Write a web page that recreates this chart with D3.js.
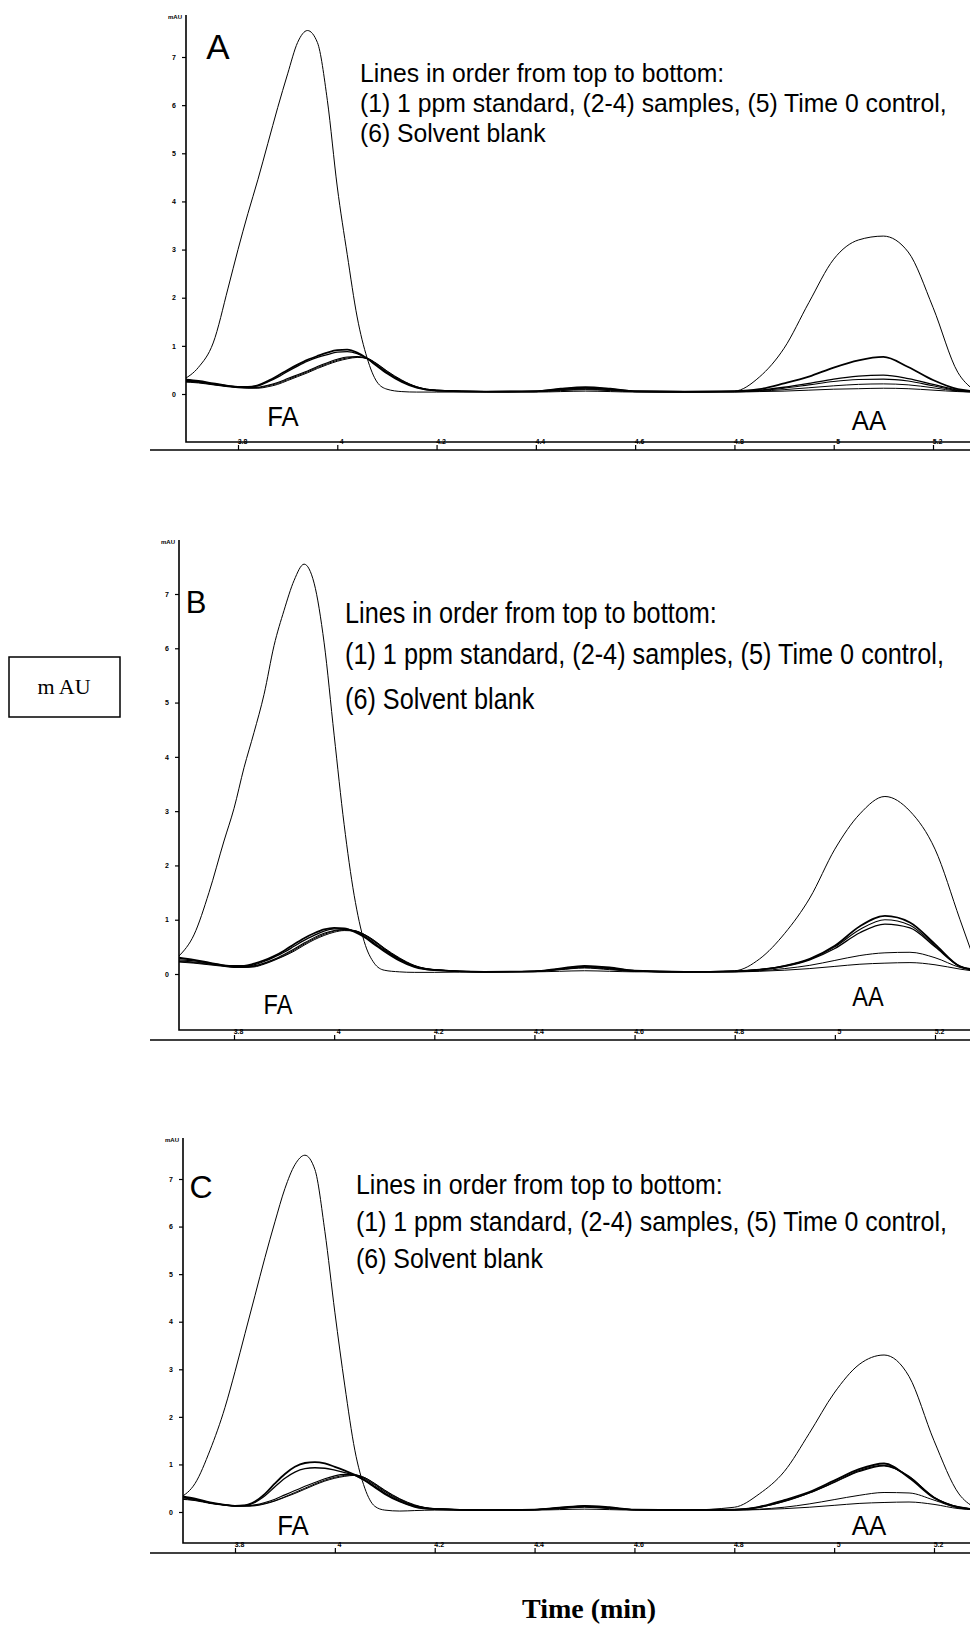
<!DOCTYPE html>
<html>
<head>
<meta charset="utf-8">
<script src="https://d3js.org/d3.v7.min.js"></script>
<style>
  body { margin: 0; background: #fff; }
  svg { display: block; }
</style>
</head>
<body>
<svg id="chart" width="970" height="1626"></svg>
<script>
// retention time grid (min), shared by every trace
var times = [3.69, 3.72, 3.75, 3.78, 3.80, 3.82, 3.84, 3.86, 3.88, 3.90, 3.92, 3.94, 3.96, 3.98, 4.00,
             4.02, 4.04, 4.06, 4.08, 4.10, 4.13, 4.16, 4.20, 4.30, 4.40, 4.45, 4.50, 4.55, 4.60, 4.70,
             4.80, 4.85, 4.90, 4.95, 5.00, 5.05, 5.10, 5.15, 5.20, 5.25, 5.28];

var yTicks = [0, 1, 2, 3, 4, 5, 6, 7];
var xTicks = [3.8, 4.0, 4.2, 4.4, 4.6, 4.8, 5.0, 5.2];
var xTickText = ["3.8", "4", "4.2", "4.4", "4.6", "4.8", "5", "5.2"];
var panelLetters = ["A", "B", "C"];
var peakNames = ["FA", "AA"];
var noteText = ["Lines in order from top to bottom:",
                "(1) 1 ppm standard, (2-4) samples, (5) Time 0 control,",
                "(6) Solvent blank"];

// panel A (mAU)
var stdA   = [0.30, 0.55, 1.06, 2.20, 3.00, 3.75, 4.45, 5.20, 5.95, 6.65, 7.30, 7.55, 7.30, 6.10, 4.30,
              2.90, 1.60, 0.75, 0.25, 0.10, 0.05, 0.04, 0.04, 0.04, 0.04, 0.05, 0.06, 0.05, 0.04, 0.04,
              0.06, 0.35, 0.95, 1.90, 2.80, 3.20, 3.28, 2.95, 1.80, 0.45, 0.10];
var s2A    = [0.30, 0.27, 0.22, 0.17, 0.15, 0.15, 0.18, 0.27, 0.38, 0.50, 0.61, 0.71, 0.79, 0.86, 0.91,
              0.92, 0.86, 0.74, 0.58, 0.43, 0.25, 0.13, 0.07, 0.05, 0.06, 0.11, 0.14, 0.11, 0.06, 0.05,
              0.06, 0.10, 0.22, 0.36, 0.55, 0.70, 0.77, 0.56, 0.29, 0.10, 0.06];
var s3A    = [0.28, 0.26, 0.21, 0.17, 0.15, 0.15, 0.17, 0.25, 0.35, 0.47, 0.58, 0.68, 0.76, 0.82, 0.87,
              0.88, 0.84, 0.74, 0.59, 0.44, 0.26, 0.14, 0.07, 0.05, 0.06, 0.10, 0.13, 0.10, 0.06, 0.05,
              0.05, 0.08, 0.14, 0.22, 0.31, 0.37, 0.39, 0.32, 0.20, 0.08, 0.05];
var s4A    = [0.27, 0.25, 0.20, 0.16, 0.14, 0.13, 0.14, 0.18, 0.24, 0.32, 0.40, 0.48, 0.57, 0.65, 0.72,
              0.77, 0.78, 0.73, 0.60, 0.45, 0.27, 0.14, 0.07, 0.05, 0.05, 0.09, 0.12, 0.09, 0.05, 0.05,
              0.05, 0.07, 0.12, 0.19, 0.26, 0.30, 0.31, 0.27, 0.17, 0.07, 0.05];
var ctrlA  = [0.26, 0.24, 0.20, 0.16, 0.14, 0.13, 0.13, 0.17, 0.22, 0.30, 0.38, 0.46, 0.55, 0.63, 0.70,
              0.75, 0.77, 0.74, 0.62, 0.47, 0.28, 0.15, 0.08, 0.05, 0.05, 0.08, 0.10, 0.08, 0.05, 0.04,
              0.05, 0.06, 0.09, 0.13, 0.17, 0.20, 0.21, 0.19, 0.13, 0.06, 0.04];
var blankA = [0.25, 0.23, 0.19, 0.15, 0.13, 0.12, 0.12, 0.15, 0.20, 0.28, 0.36, 0.44, 0.53, 0.61, 0.68,
              0.73, 0.76, 0.74, 0.63, 0.48, 0.29, 0.15, 0.08, 0.05, 0.05, 0.07, 0.09, 0.07, 0.05, 0.04,
              0.04, 0.05, 0.06, 0.08, 0.10, 0.11, 0.12, 0.11, 0.08, 0.05, 0.04];

// panel B (mAU)
var stdB   = [0.33, 0.72, 1.50, 2.45, 3.05, 3.80, 4.45, 5.15, 6.05, 6.70, 7.25, 7.55, 7.20, 6.10, 4.40,
              2.75, 1.45, 0.60, 0.20, 0.07, 0.04, 0.03, 0.03, 0.04, 0.04, 0.05, 0.06, 0.05, 0.04, 0.04,
              0.06, 0.28, 0.75, 1.40, 2.30, 2.95, 3.27, 3.00, 2.30, 1.00, 0.22];
var s2B    = [0.30, 0.26, 0.21, 0.16, 0.15, 0.15, 0.19, 0.25, 0.33, 0.43, 0.55, 0.66, 0.75, 0.82, 0.85,
              0.84, 0.78, 0.68, 0.55, 0.42, 0.25, 0.13, 0.07, 0.04, 0.05, 0.10, 0.15, 0.12, 0.06, 0.04,
              0.05, 0.08, 0.15, 0.28, 0.52, 0.88, 1.07, 0.95, 0.55, 0.14, 0.08];
var s3B    = [0.26, 0.24, 0.20, 0.16, 0.14, 0.14, 0.17, 0.23, 0.31, 0.40, 0.51, 0.62, 0.71, 0.79, 0.83,
              0.83, 0.79, 0.70, 0.57, 0.44, 0.27, 0.14, 0.07, 0.04, 0.05, 0.09, 0.14, 0.11, 0.06, 0.04,
              0.05, 0.08, 0.14, 0.26, 0.47, 0.76, 0.92, 0.85, 0.50, 0.14, 0.07];
var s4B    = [0.24, 0.22, 0.19, 0.15, 0.13, 0.13, 0.15, 0.20, 0.27, 0.36, 0.46, 0.57, 0.67, 0.75, 0.80,
              0.82, 0.80, 0.72, 0.60, 0.46, 0.28, 0.15, 0.08, 0.04, 0.05, 0.09, 0.13, 0.10, 0.05, 0.04,
              0.05, 0.08, 0.15, 0.27, 0.50, 0.82, 1.00, 0.90, 0.52, 0.14, 0.08];
var ctrlB  = [0.23, 0.21, 0.18, 0.15, 0.13, 0.13, 0.14, 0.19, 0.26, 0.34, 0.44, 0.55, 0.65, 0.73, 0.79,
              0.81, 0.80, 0.73, 0.61, 0.47, 0.29, 0.15, 0.08, 0.04, 0.05, 0.08, 0.12, 0.09, 0.05, 0.04,
              0.04, 0.06, 0.10, 0.16, 0.25, 0.34, 0.39, 0.40, 0.30, 0.12, 0.06];
var blankB = [0.22, 0.20, 0.17, 0.14, 0.12, 0.12, 0.13, 0.18, 0.25, 0.33, 0.42, 0.53, 0.63, 0.71, 0.77,
              0.80, 0.79, 0.73, 0.62, 0.48, 0.30, 0.16, 0.08, 0.04, 0.05, 0.08, 0.11, 0.08, 0.05, 0.04,
              0.04, 0.05, 0.07, 0.10, 0.14, 0.18, 0.20, 0.21, 0.17, 0.09, 0.05];

// panel C (mAU)
var stdC   = [0.30, 0.60, 1.30, 2.20, 2.95, 3.75, 4.55, 5.35, 6.10, 6.80, 7.30, 7.50, 7.20, 5.90, 4.20,
              2.65, 1.30, 0.50, 0.12, 0.04, 0.02, 0.03, 0.04, 0.04, 0.04, 0.05, 0.06, 0.05, 0.04, 0.04,
              0.10, 0.38, 0.85, 1.65, 2.50, 3.10, 3.30, 2.85, 1.50, 0.38, 0.10];
var s2C    = [0.34, 0.28, 0.20, 0.15, 0.13, 0.14, 0.22, 0.38, 0.60, 0.80, 0.95, 1.03, 1.05, 1.02, 0.95,
              0.87, 0.78, 0.66, 0.52, 0.38, 0.22, 0.11, 0.06, 0.04, 0.05, 0.09, 0.13, 0.10, 0.05, 0.04,
              0.05, 0.11, 0.25, 0.42, 0.66, 0.90, 1.02, 0.72, 0.30, 0.10, 0.06];
var s3C    = [0.32, 0.27, 0.19, 0.15, 0.13, 0.14, 0.20, 0.34, 0.53, 0.71, 0.84, 0.91, 0.93, 0.92, 0.88,
              0.83, 0.77, 0.67, 0.54, 0.40, 0.23, 0.12, 0.06, 0.04, 0.05, 0.09, 0.12, 0.09, 0.05, 0.04,
              0.05, 0.10, 0.23, 0.40, 0.63, 0.87, 0.98, 0.74, 0.31, 0.10, 0.06];
var s4C    = [0.30, 0.26, 0.19, 0.15, 0.13, 0.13, 0.15, 0.20, 0.27, 0.36, 0.45, 0.54, 0.62, 0.70, 0.76,
              0.79, 0.78, 0.70, 0.57, 0.43, 0.25, 0.13, 0.07, 0.04, 0.05, 0.08, 0.12, 0.09, 0.05, 0.04,
              0.05, 0.10, 0.22, 0.40, 0.62, 0.85, 0.97, 0.75, 0.30, 0.10, 0.06];
var ctrlC  = [0.28, 0.25, 0.19, 0.15, 0.13, 0.13, 0.14, 0.18, 0.24, 0.32, 0.41, 0.50, 0.59, 0.67, 0.73,
              0.77, 0.78, 0.72, 0.59, 0.45, 0.27, 0.14, 0.07, 0.04, 0.05, 0.08, 0.11, 0.08, 0.05, 0.04,
              0.04, 0.06, 0.10, 0.17, 0.26, 0.35, 0.41, 0.40, 0.25, 0.08, 0.05];
var blankC = [0.27, 0.24, 0.18, 0.14, 0.12, 0.12, 0.13, 0.17, 0.23, 0.31, 0.39, 0.48, 0.57, 0.65, 0.71,
              0.75, 0.77, 0.72, 0.60, 0.46, 0.28, 0.15, 0.07, 0.04, 0.05, 0.07, 0.10, 0.07, 0.05, 0.04,
              0.04, 0.05, 0.07, 0.10, 0.14, 0.18, 0.20, 0.21, 0.16, 0.07, 0.05];

var seriesByPanel = [
  [stdA, s2A, s3A, s4A, ctrlA, blankA],
  [stdB, s2B, s3B, s4B, ctrlB, blankB],
  [stdC, s2C, s3C, s4C, ctrlC, blankC]
];

// widths of the traces: thin standard, heavier sample lines
var strokeW = [1.0, 1.8, 1.3, 1.1, 1.0, 1.0];

var narrow = "'Liberation Sans Narrow', 'Arial Narrow', 'Liberation Sans', Arial, sans-serif";

// layout of each panel in page pixels
var layout = [
  {axisX: 186, top: 15,   bottom: 442,  axisLine: 450,  y0: 394,  y7: 57,   x0: 238, x1: 933,
   letterX: 218, letterY: 59,   letterFs: 35, noteX: 360, noteY: [82, 112, 142],    noteFs: 26, noteW: 587,
   faX: 283, faY: 426, aaX: 869, aaY: 430, peakFs: 27},
  {axisX: 179, top: 540,  bottom: 1030, axisLine: 1040, y0: 974,  y7: 594,  x0: 234, x1: 935,
   letterX: 196, letterY: 613,  letterFs: 31, noteX: 345, noteY: [623, 664, 709],  noteFs: 30, noteW: 599,
   faX: 278, faY: 1014, aaX: 868, aaY: 1006, peakFs: 28},
  {axisX: 183, top: 1138, bottom: 1543, axisLine: 1553, y0: 1512, y7: 1179, x0: 235, x1: 934,
   letterX: 201, letterY: 1198, letterFs: 32, noteX: 356, noteY: [1194, 1231, 1268], noteFs: 27, noteW: 591,
   faX: 293, faY: 1535, aaX: 869, aaY: 1535, peakFs: 28}
];

var svg = d3.select("#chart");

layout.forEach(function(L, p) {
  var g = svg.append("g");

  var x = d3.scaleLinear().domain([3.8, 5.2]).range([L.x0, L.x1]);
  var y = d3.scaleLinear().domain([0, 7]).range([L.y0, L.y7]);

  g.append("clipPath").attr("id", "clip" + p)
    .append("rect")
    .attr("x", L.axisX).attr("y", L.top)
    .attr("width", 970 - L.axisX).attr("height", L.bottom - L.top);

  // frame: y axis and bottom line of the plot
  g.append("path")
    .attr("d", "M" + L.axisX + "," + L.top + "V" + L.bottom + "H970")
    .attr("fill", "none").attr("stroke", "#000").attr("stroke-width", 1.6);

  // y axis ticks
  var yAxis = g.append("g")
    .attr("transform", "translate(" + L.axisX + ",0)")
    .call(d3.axisLeft(y).tickValues(yTicks).tickSize(4).tickPadding(6).tickFormat(d3.format("d")));
  yAxis.select(".domain").remove();
  yAxis.selectAll("text").attr("font-size", 7).attr("font-weight", "bold").attr("font-family", "Arial, sans-serif");
  yAxis.selectAll("line").attr("stroke-width", 1.2);

  g.append("text")
    .attr("x", L.axisX - 4).attr("y", L.top + 4)
    .attr("text-anchor", "end")
    .attr("font-size", 6).attr("font-weight", "bold").attr("font-family", "Arial, sans-serif")
    .text("mAU");

  // time axis: a separate long line below the plot
  g.append("line")
    .attr("x1", 150).attr("x2", 970)
    .attr("y1", L.axisLine).attr("y2", L.axisLine)
    .attr("stroke", "#000").attr("stroke-width", 1.6);

  var xAxis = g.append("g")
    .attr("transform", "translate(0," + L.axisLine + ")")
    .call(d3.axisTop(x).tickValues(xTicks).tickSize(5).tickPadding(1)
      .tickFormat(function(d, i) { return xTickText[i]; }));
  xAxis.select(".domain").remove();
  xAxis.selectAll("text").attr("font-size", 7).attr("font-weight", "bold").attr("font-family", "Arial, sans-serif")
    .attr("dx", 4);
  xAxis.selectAll("line").attr("stroke-width", 1.2);

  // traces
  var line = d3.line()
    .x(function(d, i) { return x(times[i]); })
    .y(function(d) { return y(d); })
    .curve(d3.curveMonotoneX);

  g.append("g").attr("clip-path", "url(#clip" + p + ")")
    .selectAll("path.trace")
    .data(seriesByPanel[p])
    .enter().append("path")
    .attr("class", "trace")
    .attr("d", line)
    .attr("fill", "none")
    .attr("stroke", "#000")
    .attr("stroke-linejoin", "round")
    .attr("stroke-width", function(d, i) { return strokeW[i]; });

  // panel letter
  g.append("text")
    .attr("x", L.letterX).attr("y", L.letterY)
    .attr("text-anchor", "middle")
    .attr("font-family", "'Liberation Sans', Arial, sans-serif")
    .attr("font-size", L.letterFs)
    .text(panelLetters[p]);

  // note text, condensed to the measured width of the long line
  var notes = noteText.map(function(t) {
    return g.append("text")
      .attr("font-family", narrow)
      .attr("font-size", L.noteFs)
      .text(t);
  });
  var sx = L.noteW / notes[1].node().getComputedTextLength();
  notes.forEach(function(n, i) {
    n.attr("transform", "translate(" + L.noteX + "," + L.noteY[i] + ") scale(" + sx + ",1)");
  });

  // peak labels
  [[L.faX, L.faY], [L.aaX, L.aaY]].forEach(function(pos, k) {
    g.append("text")
      .attr("text-anchor", "middle")
      .attr("font-family", narrow)
      .attr("font-size", L.peakFs)
      .attr("transform", "translate(" + pos[0] + "," + pos[1] + ") scale(" + sx + ",1)")
      .text(peakNames[k]);
  });
});

// shared y axis unit box
svg.append("rect")
  .attr("x", 9).attr("y", 657).attr("width", 111).attr("height", 60)
  .attr("fill", "none").attr("stroke", "#000").attr("stroke-width", 1.5);
svg.append("text")
  .attr("x", 64).attr("y", 694)
  .attr("text-anchor", "middle")
  .attr("font-family", "'Liberation Serif', 'Times New Roman', serif")
  .attr("font-size", 22)
  .text("m AU");

// shared x axis title
svg.append("text")
  .attr("x", 589).attr("y", 1618)
  .attr("text-anchor", "middle")
  .attr("font-family", "'Liberation Serif', 'Times New Roman', serif")
  .attr("font-weight", "bold")
  .attr("font-size", 28)
  .text("Time (min)");
</script>
</body>
</html>
